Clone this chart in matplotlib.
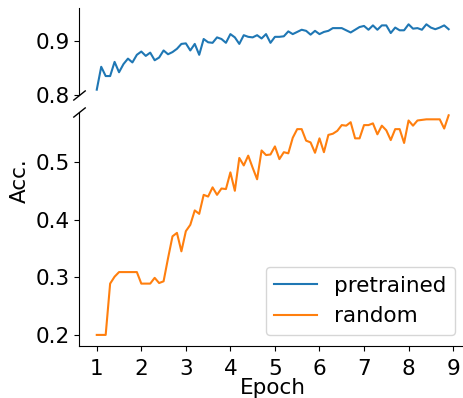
import numpy as np
import matplotlib as mpl
mpl.use("Agg")
import matplotlib.pyplot as plt

# 10 evaluations per epoch, epochs 1.0 .. 8.9
epochs = np.arange(80) / 10 + 1

pretrained = [0.810, 0.852, 0.835, 0.835, 0.861, 0.842, 0.857, 0.867, 0.860, 0.874,
              0.880, 0.872, 0.878, 0.864, 0.869, 0.882, 0.875, 0.879, 0.885, 0.894,
              0.895, 0.882, 0.894, 0.874, 0.903, 0.897, 0.896, 0.906, 0.903, 0.896,
              0.912, 0.906, 0.894, 0.910, 0.907, 0.906, 0.910, 0.904, 0.912, 0.896,
              0.907, 0.907, 0.908, 0.917, 0.912, 0.916, 0.920, 0.918, 0.911, 0.918,
              0.912, 0.916, 0.918, 0.923, 0.923, 0.923, 0.919, 0.915, 0.920, 0.925,
              0.927, 0.920, 0.928, 0.920, 0.928, 0.928, 0.914, 0.924, 0.919, 0.919,
              0.930, 0.922, 0.923, 0.920, 0.930, 0.924, 0.921, 0.924, 0.928, 0.921]

random_init = [0.200, 0.200, 0.200, 0.289, 0.301, 0.309, 0.309, 0.309, 0.309, 0.309,
               0.289, 0.289, 0.289, 0.299, 0.290, 0.293, 0.333, 0.371, 0.377, 0.345,
               0.380, 0.391, 0.416, 0.410, 0.443, 0.440, 0.456, 0.443, 0.454, 0.453,
               0.482, 0.450, 0.507, 0.494, 0.511, 0.490, 0.470, 0.520, 0.512, 0.513,
               0.527, 0.505, 0.517, 0.515, 0.542, 0.557, 0.557, 0.537, 0.534, 0.516,
               0.541, 0.517, 0.547, 0.549, 0.554, 0.564, 0.563, 0.569, 0.541, 0.541,
               0.564, 0.564, 0.567, 0.548, 0.563, 0.555, 0.538, 0.557, 0.557, 0.533,
               0.572, 0.563, 0.572, 0.573, 0.574, 0.574, 0.574, 0.574, 0.558, 0.581]

xticks = [1, 2, 3, 4, 5, 6, 7, 8, 9]
top_yticks = [0.8, 0.9]
bottom_yticks = [0.2, 0.3, 0.4, 0.5]

font_size = 15.5
plt.rcParams['font.size'] = font_size

fig = plt.figure(figsize=(4.63, 3.98), dpi=100)
ax_top = fig.add_axes([0.171, 0.761, 0.836, 0.219])
ax_bot = fig.add_axes([0.171, 0.131, 0.836, 0.588])

for ax in (ax_top, ax_bot):
    ax.plot(epochs, pretrained, color='C0', label='pretrained')
    ax.plot(epochs, random_init, color='C1', label='random')
    ax.spines['top'].set_visible(False)
    ax.spines['right'].set_visible(False)
    ax.set_xlim(0.605, 9.295)

ax_top.set_ylim(0.8, 0.96)
ax_bot.set_ylim(0.181, 0.587)

ax_top.spines['bottom'].set_visible(False)
ax_top.tick_params(axis='x', which='both', bottom=False, labelbottom=False)
ax_top.set_yticks(top_yticks)
ax_bot.set_yticks(bottom_yticks)
ax_bot.set_xticks(xticks)

ax_top.tick_params(axis='both', which='major', labelsize=font_size)
ax_bot.tick_params(axis='y', which='major', labelsize=font_size)
ax_bot.tick_params(axis='x', which='major', labelsize=font_size, pad=6)

# break marks on the left spine
d = 0.8
kwargs = dict(marker=[(-1, -d), (1, d)], markersize=9, linestyle='none',
              color='k', mec='k', mew=1, clip_on=False)
ax_top.plot([0], [0], transform=ax_top.transAxes, **kwargs)
ax_bot.plot([0], [1], transform=ax_bot.transAxes, **kwargs)

fig.text(0.59, 0.026, 'Epoch', ha='center', va='center', fontsize=font_size)
fig.text(0.043, 0.545, 'Acc.', rotation=90, ha='center', va='center', fontsize=font_size)

ax_bot.legend(loc='lower right', fontsize=font_size)

fig.savefig('out.png', dpi=100)
